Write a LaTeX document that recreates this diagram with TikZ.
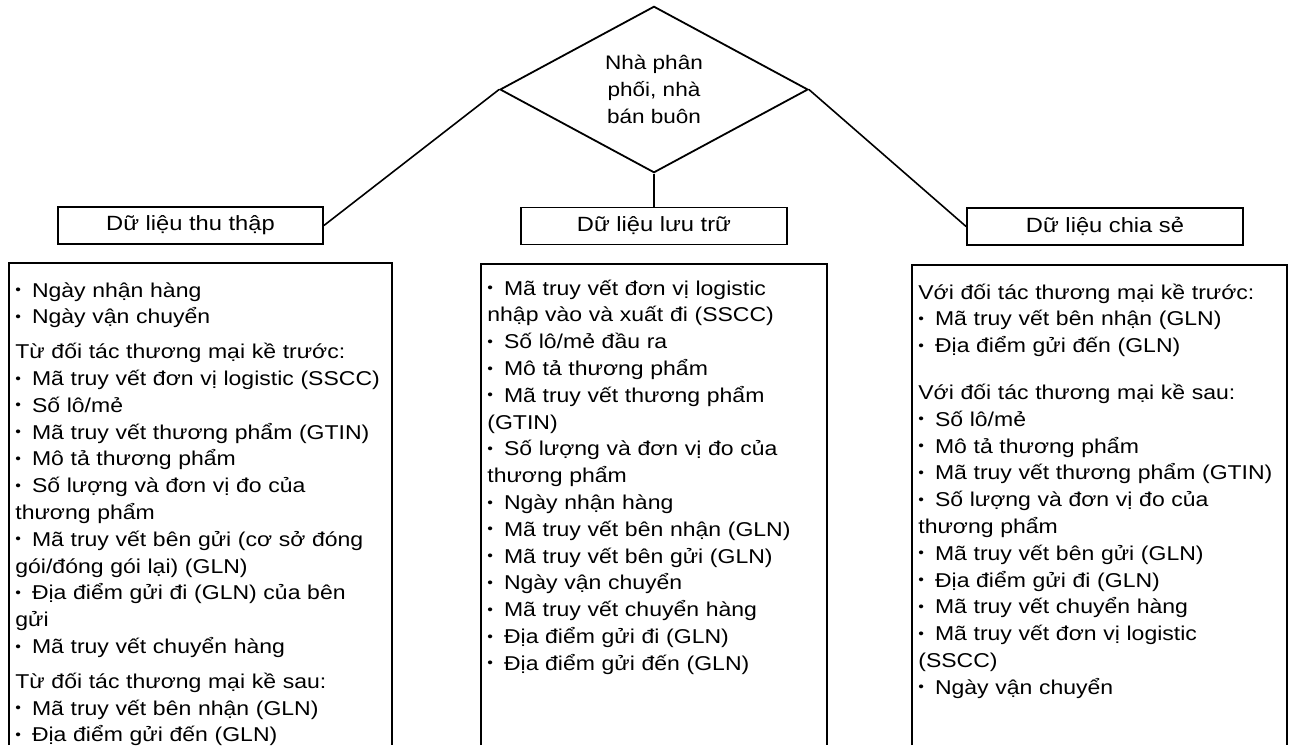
\documentclass[tikz,border=0pt]{standalone}
\usepackage{fontspec}
\setmainfont{Liberation Sans}[FakeStretch=1.15]
\usepackage{tikz}
\usetikzlibrary{positioning}
\usetikzlibrary{shapes.geometric}
\usetikzlibrary{calc}
\newcommand{\bul}{\raisebox{1.2pt}{\fontsize{7pt}{7pt}\selectfont •}\hspace{5.5pt}}
\tikzset{
    headbox/.style={draw, line width=0.9pt, minimum height=18.5pt, inner sep=0pt, font=\fontsize{10.3pt}{12pt}\selectfont},
    listtext/.style={anchor=base west, align=left, inner sep=0pt, font=\fontsize{10pt}{13.4pt}\selectfont},
    listframe/.style={line width=0.9pt},
    link/.style={line width=0.8pt}
}

\begin{document}
\begin{tikzpicture}[x=0.5pt, y=-0.5pt]
        \useasboundingbox (0,0) rectangle (1291,745);
        \node [draw, diamond, line width=0.9pt, minimum width=154pt, minimum height=74.5pt, inner sep=0pt, align=center, font=\fontsize{9.8pt}{13.5pt}\selectfont]
            (dist)
            at (654,89.5) {Nhà phân\\phối, nhà\\bán buôn};
        \node [headbox, minimum width=132.5pt] (collect) at (190.5,225.5) {Dữ liệu thu thập};
        \node [headbox, minimum width=133pt] (store) at (654,226) {Dữ liệu lưu trữ};
        \node [headbox, minimum width=138pt] (share) at (1105,226.5) {Dữ liệu chia sẻ};
        \draw [link] (dist.west) -- (collect.east);
        \draw [link] (dist.south) -- (store.north);
        \draw [link] (dist.east) -- (share.west);
        \draw [listframe] (9,745) |- (392,263) -- (392,745);
        \draw [listframe] (481,745) |- (827,264) -- (827,745);
        \draw [listframe] (912,745) |- (1287,265) -- (1287,745);
        \node [listtext, text width=185pt] (collectlist) at (15,297) {%
            \bul Ngày nhận hàng\\
            \bul Ngày vận chuyển\\[4pt]
            Từ đối tác thương mại kề trước:\\
            \bul Mã truy vết đơn vị logistic (SSCC)\\
            \bul Số lô/mẻ\\
            \bul Mã truy vết thương phẩm (GTIN)\\
            \bul Mô tả thương phẩm\\
            \bul Số lượng và đơn vị đo của\\
            thương phẩm\\
            \bul Mã truy vết bên gửi (cơ sở đóng\\
            gói/đóng gói lại) (GLN)\\
            \bul Địa điểm gửi đi (GLN) của bên\\
            gửi\\
            \bul Mã truy vết chuyển hàng\\[4pt]
            Từ đối tác thương mại kề sau:\\
            \bul Mã truy vết bên nhận (GLN)\\
            \bul Địa điểm gửi đến (GLN)};
        \node [listtext, text width=168pt] (storelist) at (487,295) {%
            \bul Mã truy vết đơn vị logistic\\
            nhập vào và xuất đi (SSCC)\\
            \bul Số lô/mẻ đầu ra\\
            \bul Mô tả thương phẩm\\
            \bul Mã truy vết thương phẩm\\
            (GTIN)\\
            \bul Số lượng và đơn vị đo của\\
            thương phẩm\\
            \bul Ngày nhận hàng\\
            \bul Mã truy vết bên nhận (GLN)\\
            \bul Mã truy vết bên gửi (GLN)\\
            \bul Ngày vận chuyển\\
            \bul Mã truy vết chuyển hàng\\
            \bul Địa điểm gửi đi (GLN)\\
            \bul Địa điểm gửi đến (GLN)};
        \node [listtext, text width=182pt] (sharelist) at (918,299) {%
            Với đối tác thương mại kề trước:\\
            \bul Mã truy vết bên nhận (GLN)\\
            \bul Địa điểm gửi đến (GLN)\\[10pt]
            Với đối tác thương mại kề sau:\\
            \bul Số lô/mẻ\\
            \bul Mô tả thương phẩm\\
            \bul Mã truy vết thương phẩm (GTIN)\\
            \bul Số lượng và đơn vị đo của\\
            thương phẩm\\
            \bul Mã truy vết bên gửi (GLN)\\
            \bul Địa điểm gửi đi (GLN)\\
            \bul Mã truy vết chuyển hàng\\
            \bul Mã truy vết đơn vị logistic\\
            (SSCC)\\
            \bul Ngày vận chuyển};
    \end{tikzpicture}
\end{document}
